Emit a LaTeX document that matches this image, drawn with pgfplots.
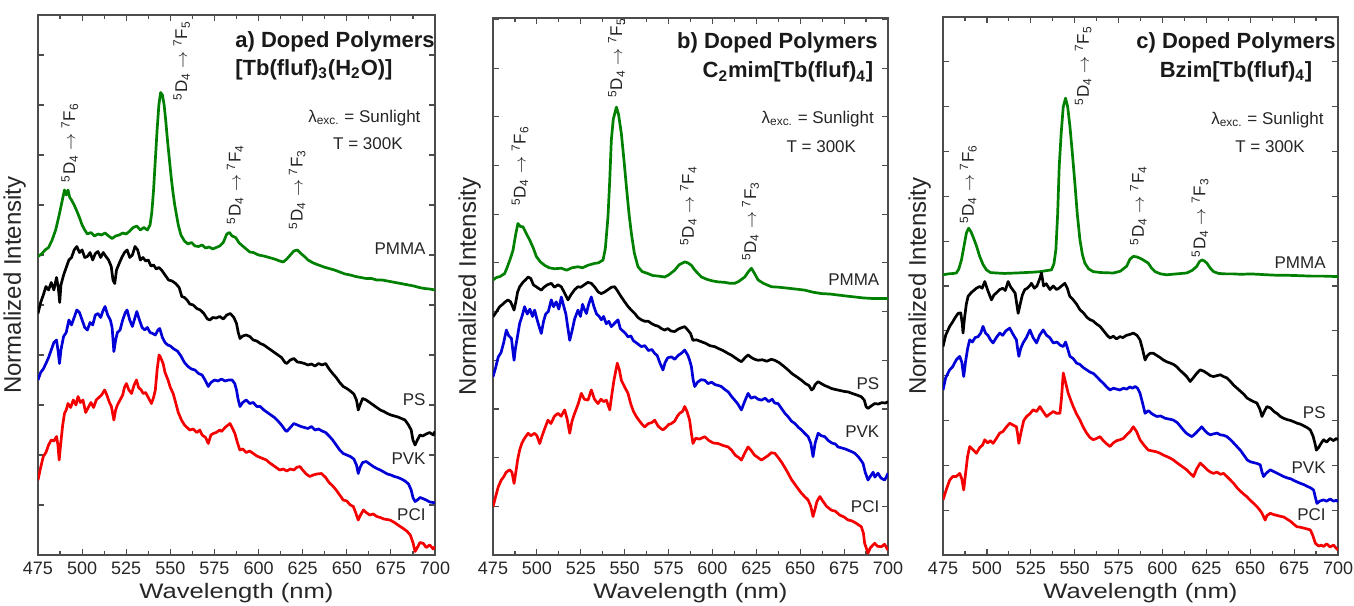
\documentclass[border=0pt]{standalone}
\usepackage{fontspec}
\setmainfont{Liberation Sans}
\newfontfamily\widefont{Liberation Sans}[FakeStretch=1.22]
\usepackage{pgfplots}
\pgfplotsset{compat=1.18}

\definecolor{cPMMA}{RGB}{0,128,0}
\definecolor{cPS}{RGB}{0,0,0}
\definecolor{cPVK}{RGB}{0,0,215}
\definecolor{cPCI}{RGB}{245,0,0}

\newcommand{\tr}[2]{\textsuperscript{5}D\textsubscript{4} $\rightarrow$ \textsuperscript{7}F\textsubscript{#2}}

\pgfplotsset{
  spec/.style={
    scale only axis, xmin=475, xmax=700, ymin=0,
    xtick={475,500,...,700}, minor x tick num=1,
    ytick distance=1, yticklabels={},
    tick align=inside, major tick length=3pt, minor tick length=2pt,
    axis line style={black!70, line width=0.7pt},
    every tick/.style={black!70, line width=0.6pt},
    tick label style={font=\fontsize{9}{10}\selectfont, text=black!85},
    /pgf/number format/assume math mode=true,
    xlabel={Wavelength (nm)}, ylabel={Normalized Intensity},
    ylabel style={font=\fontsize{12}{14}\selectfont, text=black!85,
      at={(axis description cs:-0.013,0.5)}, anchor=south},
    xlabel style={font=\widefont\fontsize{10.5}{12}\selectfont, text=black!85,
      at={(axis description cs:0.5,0)}, anchor=base, yshift=-21.5pt},
    every axis plot/.append style={line width=1.35pt, line join=round, mark=none},
  },
}
\tikzset{
  ann/.style={rotate=90, anchor=west, font=\fontsize{8.5}{10}\selectfont, text=black!85, inner sep=1pt},
  lab/.style={anchor=east, font=\fontsize{8.5}{10}\selectfont, text=black!85, inner sep=1pt},
  info/.style={font=\fontsize{8.5}{10}\selectfont, text=black!85, inner sep=1pt},
  ttl/.style={font=\bfseries\fontsize{11}{13.5}\selectfont, text=black!90, inner sep=1pt},
}

\begin{document}
\begin{tikzpicture}
\useasboundingbox (0,0) rectangle (677pt,302.5pt);

% ---------------- panel a ----------------
\begin{axis}[spec, at={(19pt,25pt)}, anchor=south west,
  width=198.5pt, height=270pt, ymax=10.8]
\addplot[cPMMA] coordinates {
(475,5.97)(477,6.02)(479,6.1)(481,6.15)(483,6.3)(485,6.5)(487,6.8)(488.5,7.05)(490,7.3)(491,7.2)(492,7.3)(493,7.15)(494,7.1)(495.5,7.0)(497,6.88)(498.5,6.75)(500,6.6)(501.5,6.5)(503,6.42)(505,6.45)(507,6.38)(509,6.42)(511,6.4)(513,6.44)(515,6.38)(517,6.33)(519,6.38)(521,6.4)(523,6.44)(525,6.42)(527,6.48)(529,6.55)(531,6.58)(533,6.5)(535,6.55)(537,6.5)(538.5,6.6)(539.5,6.85)(540.5,7.3)(541.5,7.9)(542.5,8.5)(543.5,9.0)(544.5,9.25)(545.5,9.2)(546.5,9.0)(547.5,8.65)(548.5,8.25)(549.5,7.9)(550.5,7.55)(551.5,7.25)(552.5,7.0)(553.5,6.8)(554.5,6.6)(556,6.4)(558,6.28)(560,6.22)(562,6.25)(564,6.18)(566,6.17)(568,6.2)(570,6.14)(572,6.16)(574,6.12)(576,6.15)(578,6.18)(580,6.25)(582,6.42)(583.5,6.45)(585,6.38)(587,6.35)(589,6.24)(591,6.18)(593,6.12)(595,6.06)(597,6.05)(600,6.0)(603,5.98)(606,5.95)(609,5.92)(612,5.88)(614,5.86)(616,5.92)(618,6.0)(620,6.08)(622,6.1)(624,6.03)(626,5.97)(628,5.9)(631,5.84)(634,5.8)(637,5.76)(640,5.73)(643,5.7)(646,5.66)(649,5.62)(652,5.6)(655,5.57)(658,5.55)(661,5.53)(664,5.53)(667,5.5)(670,5.5)(673,5.48)(676,5.46)(679,5.44)(682,5.42)(685,5.4)(688,5.38)(691,5.35)(694,5.33)(697,5.32)(700,5.3)
};
\addplot[cPS] coordinates {
(475,4.83)(476.5,5.05)(478,5.2)(479.5,5.37)(481,5.3)(482.5,5.45)(484,5.3)(485.5,5.55)(486.5,5.35)(487.3,5.05)(488,5.4)(489.5,5.6)(491,5.75)(492.5,5.9)(494,5.95)(495.5,6.1)(497,6.17)(498.5,6.05)(500,6.1)(501.5,5.95)(503,5.97)(504.5,6.05)(506,5.9)(507.5,6.03)(509,6.07)(510.5,5.95)(512,6.05)(513.5,5.97)(515,5.9)(516.5,5.77)(517.5,5.5)(518.5,5.43)(519.5,5.7)(521,5.83)(522.5,5.95)(524,6.05)(525.5,6.1)(527,5.95)(528.5,6.0)(530,6.17)(531.5,6.1)(533,5.9)(534.5,5.95)(536,5.88)(537.5,5.9)(539,5.78)(540.5,5.8)(542,5.72)(543.5,5.75)(545,5.7)(547,5.6)(549,5.5)(551,5.48)(553,5.43)(555,5.35)(556.5,5.17)(558,5.15)(559.5,5.1)(561,5.02)(563,5.0)(565,4.93)(567,4.9)(569,4.83)(571,4.72)(572.5,4.7)(574,4.75)(576,4.74)(578,4.77)(580,4.72)(582,4.8)(584,4.83)(586,4.75)(587.5,4.63)(588.5,4.45)(589.5,4.33)(591,4.38)(593,4.4)(595,4.37)(597,4.3)(599,4.28)(601,4.23)(603,4.2)(605,4.15)(607,4.1)(609,4.05)(611,4.0)(613,3.95)(615,3.85)(616,3.83)(618,3.9)(620,3.93)(622,3.86)(624,3.85)(626,3.83)(628,3.8)(630,3.82)(632,3.78)(634,3.83)(636,3.8)(638,3.83)(640,3.72)(642,3.63)(644,3.55)(646,3.45)(648,3.37)(650,3.33)(652,3.28)(654,3.22)(655.5,3.1)(656.5,2.9)(657.5,3.0)(659,3.13)(661,3.1)(663,3.05)(665,3.0)(667,2.95)(669,2.9)(671,2.87)(673,2.83)(675,2.8)(677,2.78)(679,2.76)(681,2.73)(683,2.7)(685,2.6)(686.5,2.5)(687.5,2.3)(688.7,2.2)(690,2.3)(691.5,2.4)(693,2.38)(695,2.42)(697,2.45)(699,2.4)(700,2.47)
};
\addplot[cPVK] coordinates {
(475,3.5)(476.5,3.65)(478,3.72)(479.5,3.83)(481,3.95)(482.5,4.1)(484,4.25)(485.5,4.3)(486.5,4.05)(487.2,3.83)(488,4.1)(489.5,4.37)(491,4.45)(492.5,4.7)(494,4.6)(495.5,4.75)(497,4.9)(498.5,4.85)(500,4.7)(501.5,4.55)(503,4.5)(504.5,4.65)(506,4.6)(507.5,4.8)(509,4.83)(510.5,4.75)(512,4.9)(513,4.97)(514.5,4.8)(516,4.7)(517,4.55)(518,4.07)(519,4.3)(520,4.45)(521.5,4.5)(523,4.7)(524.5,4.85)(525.5,4.9)(527,4.7)(528.5,4.57)(530,4.75)(531,4.87)(532.5,4.7)(534,4.55)(535.5,4.5)(537,4.55)(538.5,4.45)(540,4.43)(541.5,4.4)(543,4.5)(544,4.53)(545.5,4.35)(547,4.25)(548.5,4.2)(550,4.18)(552,4.12)(554,4.08)(556,3.98)(558,3.85)(560,3.77)(562,3.72)(564,3.7)(566,3.63)(568,3.6)(570,3.48)(571.5,3.37)(573,3.45)(575,3.5)(577,3.48)(579,3.52)(581,3.48)(583,3.5)(585,3.5)(586.5,3.43)(587.5,3.3)(588.5,3.1)(589.5,2.97)(591,3.05)(593,3.1)(595,3.03)(597,3.05)(599,2.97)(601,2.97)(603,2.9)(605,2.85)(607,2.8)(609,2.75)(611,2.68)(613,2.6)(615,2.5)(616,2.47)(618,2.55)(620,2.63)(622,2.6)(624,2.57)(626,2.55)(628,2.53)(630,2.57)(632,2.5)(634,2.52)(636,2.48)(638,2.45)(640,2.38)(642,2.3)(644,2.2)(646,2.1)(648,2.03)(650,2.0)(652,1.97)(654,1.92)(655.5,1.8)(656.5,1.63)(657.5,1.75)(659,1.85)(661,1.87)(663,1.82)(665,1.77)(667,1.73)(669,1.7)(671,1.66)(673,1.62)(675,1.6)(677,1.57)(679,1.55)(681,1.52)(683,1.48)(685,1.42)(686.5,1.3)(687.5,1.15)(688.7,1.07)(690,1.1)(691.5,1.15)(693,1.13)(695,1.1)(697,1.06)(699,1.05)(700,1.03)
};
\addplot[cPCI] coordinates {
(475,1.5)(476.5,1.75)(478,1.97)(479.5,2.05)(481,2.2)(482.5,2.3)(484,2.28)(485.5,2.37)(486.3,2.2)(487,1.9)(487.8,2.2)(489,2.6)(490,2.83)(491,2.9)(492,3.03)(493.5,2.95)(495,3.1)(496.5,3.0)(497.7,3.17)(499,3.05)(500.5,3.1)(502,2.85)(503.5,2.95)(505,3.05)(506.5,2.95)(508,3.1)(509.5,3.15)(511,3.2)(512.8,3.3)(514,3.2)(515.5,3.05)(516.6,2.97)(518,2.7)(519,2.9)(520,3.0)(521.5,3.1)(523,3.2)(524,3.35)(525.1,3.43)(526.5,3.3)(528,3.23)(529.5,3.4)(530.8,3.5)(532,3.35)(533.5,3.3)(534.6,3.23)(536,3.25)(537.5,3.15)(539.3,3.03)(540.5,3.15)(541.5,3.3)(542.5,3.7)(543.6,4.0)(544.5,3.95)(545.9,3.83)(547,3.65)(548.7,3.5)(550,3.35)(551.6,3.23)(553,3.05)(554.5,2.85)(556.3,2.7)(558,2.6)(559.5,2.55)(561,2.5)(563,2.52)(565,2.45)(566.7,2.5)(568,2.4)(570,2.35)(571.5,2.23)(573,2.4)(574.3,2.43)(576,2.45)(578,2.5)(579,2.47)(581,2.55)(583.8,2.63)(585,2.55)(586.6,2.43)(588,2.25)(589.4,2.1)(591,2.12)(593,2.05)(595,2.08)(597,2.03)(599,1.98)(601,1.95)(603,1.92)(604.5,1.9)(606,1.85)(608,1.8)(610,1.75)(612,1.7)(614,1.72)(616,1.68)(618,1.72)(620,1.7)(621.5,1.75)(623.4,1.77)(625,1.7)(627,1.62)(629,1.57)(631,1.6)(633,1.62)(635.7,1.63)(638,1.55)(640,1.45)(642.3,1.37)(644,1.3)(646,1.2)(648,1.1)(650,1.08)(652,1.0)(653.7,0.97)(655,0.85)(656.5,0.7)(657.5,0.78)(659.4,0.9)(661,0.85)(663,0.8)(665,0.82)(667,0.77)(669,0.75)(671,0.72)(674.5,0.7)(677,0.65)(679,0.6)(682,0.53)(684,0.48)(686,0.4)(687.5,0.25)(688.7,0.07)(690,0.15)(691.5,0.25)(693.4,0.23)(695,0.15)(697,0.2)(699,0.12)(700,0.17)
};
\node[ttl, anchor=west] at (axis cs:585.5,10.26) {a) Doped Polymers};
\node[ttl, anchor=west] at (axis cs:585.5,9.7) {[Tb(fluf)\textsubscript{3}(H\textsubscript{2}O)]};
\node[info] at (axis cs:660,8.74) {λ\textsubscript{exc.} = Sunlight};
\node[info] at (axis cs:662,8.22) {T = 300K};
\node[ann] at (axis cs:493,7.4) {\tr{}{6}};
\node[ann] at (axis cs:556.4,9.04) {\tr{}{5}};
\node[ann] at (axis cs:586.7,6.57) {\tr{}{4}};
\node[ann] at (axis cs:621.9,6.47) {\tr{}{3}};
\node[lab] at (axis cs:696,6.12) {PMMA};
\node[lab] at (axis cs:696,3.1) {PS};
\node[lab] at (axis cs:696,1.92) {PVK};
\node[lab] at (axis cs:696,0.8) {PCI};
\end{axis}

% ---------------- panel b ----------------
\begin{axis}[spec, at={(246.5pt,25pt)}, anchor=south west,
  width=197.5pt, height=268.5pt, ymax=11.03]
\addplot[cPMMA] coordinates {
(475,5.65)(477,5.7)(479,5.72)(481.6,5.78)(483,5.9)(485,6.1)(486.4,6.26)(488,6.6)(489.2,6.81)(490.5,6.75)(492.1,6.74)(494,6.6)(495.9,6.47)(498,6.3)(499.7,6.13)(502,6.02)(504.4,5.95)(507,5.9)(510,5.88)(513.9,5.89)(517,5.85)(520,5.9)(523.4,5.92)(526,5.9)(529,5.95)(532.9,5.99)(535,6.0)(537.7,6.06)(539,6.3)(540.5,6.95)(541.5,7.7)(542.4,8.52)(543.5,8.95)(545.3,9.2)(546.5,9.05)(548.1,8.66)(549.5,8.15)(551,7.56)(552.5,7.0)(553.8,6.61)(555.5,6.2)(557.6,5.92)(560,5.82)(563.3,5.78)(566,5.74)(569,5.73)(572.8,5.71)(575,5.75)(578.5,5.85)(581,5.96)(584.2,6.02)(586,6.0)(588,5.95)(590,5.85)(593.7,5.71)(597,5.66)(600,5.63)(603.2,5.61)(607,5.6)(610,5.58)(612.7,5.58)(615,5.62)(618.4,5.71)(620.5,5.82)(622.2,5.89)(624,5.78)(626,5.65)(629,5.58)(633.6,5.51)(638,5.5)(643.1,5.48)(648,5.46)(652.6,5.44)(657,5.4)(662,5.37)(667,5.36)(671.5,5.34)(676,5.32)(681,5.3)(686,5.28)(690.5,5.27)(695,5.27)(700,5.27)
};
\addplot[cPS] coordinates {
(475,4.89)(477,5.0)(478.8,5.1)(480.5,5.15)(482,5.2)(483.5,5.24)(485,5.2)(486,5.12)(487,5.03)(488,5.2)(489,5.4)(490.2,5.51)(492,5.6)(493.5,5.65)(495,5.71)(496.5,5.68)(498,5.55)(500,5.5)(502.5,5.44)(504,5.5)(506,5.55)(508.2,5.58)(510,5.5)(512,5.55)(513.9,5.51)(515.5,5.4)(517.7,5.24)(519.5,5.35)(521.5,5.45)(523.4,5.51)(525,5.5)(527,5.55)(529,5.6)(531,5.58)(533,5.5)(535,5.4)(536.7,5.37)(538.5,5.4)(540.5,5.45)(542.5,5.5)(544.3,5.51)(546,5.42)(548.1,5.3)(550,5.2)(552,5.1)(553.8,5.03)(556,4.95)(557.5,4.88)(559.5,4.83)(561.5,4.8)(563.5,4.8)(565.5,4.75)(567.1,4.72)(569,4.7)(571,4.65)(572.8,4.62)(574.5,4.65)(576.5,4.6)(578.5,4.59)(580.5,4.64)(582.5,4.67)(584.2,4.69)(586,4.62)(587.5,4.55)(588.9,4.41)(591,4.42)(593.7,4.38)(596,4.35)(598.5,4.3)(601.3,4.28)(603.5,4.24)(606,4.2)(608.9,4.14)(611,4.1)(613,4.05)(615,4.0)(616.5,3.97)(618.5,4.05)(620.3,4.11)(622,4.06)(624,4.02)(626,4.0)(628.5,4.01)(631,3.98)(633.5,4.02)(635.5,4.0)(638,3.95)(640.5,3.88)(643.1,3.8)(645.5,3.72)(648,3.66)(650.7,3.59)(653,3.52)(655,3.48)(656.5,3.39)(657.5,3.42)(658.5,3.5)(660.2,3.56)(662,3.52)(664,3.48)(666,3.45)(667.8,3.42)(670,3.4)(672.5,3.38)(675,3.36)(677.2,3.35)(679.5,3.32)(682,3.29)(684.8,3.25)(686.5,3.18)(687.5,3.05)(688.6,3.01)(690,3.05)(692.4,3.11)(694.5,3.1)(696.5,3.13)(698.5,3.12)(700,3.15)
};
\addplot[cPVK] coordinates {
(475,3.66)(476.5,3.85)(478,4.07)(479.5,4.15)(481,4.35)(482.6,4.62)(484,4.5)(485.5,4.45)(486.3,4.2)(487,4.0)(487.8,4.25)(489,4.5)(490.2,4.76)(491.5,4.9)(493,5.1)(494.5,4.95)(496,5.05)(497.5,4.9)(498.7,5.03)(500,4.85)(501.2,4.7)(502.5,4.55)(503.8,4.8)(505,4.95)(506.5,5.0)(508.2,5.24)(509.5,5.1)(511,5.2)(512.5,5.05)(513.9,5.3)(515,5.15)(516.5,4.95)(517.5,4.7)(518.7,4.41)(520,4.6)(521.5,4.85)(523.4,5.03)(524.8,4.9)(526,5.15)(527,5.05)(528.2,4.96)(529.5,5.15)(531,5.3)(532.5,5.1)(534,4.95)(535.5,4.9)(536.7,4.83)(538,4.9)(539.5,4.75)(541,4.8)(542.4,4.69)(544,4.75)(546.2,4.83)(547.5,4.65)(549,4.6)(550.5,4.55)(551.9,4.48)(553.5,4.5)(555,4.4)(557,4.35)(559.5,4.28)(561.5,4.3)(563.5,4.2)(565.5,4.22)(567.1,4.14)(568.5,4.1)(570,3.95)(571.8,3.8)(573,3.95)(574.5,4.05)(576.6,4.07)(578.5,4.02)(580.5,4.1)(582.5,4.15)(584.2,4.21)(586,4.1)(587,4.0)(588,3.87)(589,3.6)(589.9,3.46)(591.5,3.55)(593.5,3.6)(595.6,3.59)(597.5,3.52)(599.5,3.55)(601.5,3.5)(603.5,3.48)(605.1,3.46)(607,3.4)(609,3.35)(611,3.25)(612.7,3.18)(614.5,3.1)(616.5,2.98)(618.3,3.15)(620.3,3.32)(622,3.22)(624,3.25)(626,3.2)(627.9,3.18)(630,3.22)(632,3.15)(634,3.2)(635.5,3.12)(637.4,3.11)(639.5,3.0)(641.5,2.9)(643.1,2.84)(645,2.75)(647,2.7)(649,2.62)(650.7,2.57)(652.5,2.5)(654.5,2.43)(656,2.3)(657.3,2.02)(658.5,2.3)(660.2,2.5)(662,2.45)(664,2.43)(666,2.35)(668,2.3)(670,2.28)(671.5,2.22)(673.5,2.2)(675.5,2.18)(677.5,2.15)(679.5,2.12)(681,2.09)(683,2.02)(684.5,1.95)(685.8,1.88)(687,1.7)(688.6,1.54)(690,1.62)(691.5,1.7)(692.5,1.6)(694.3,1.68)(696,1.58)(698.1,1.54)(699,1.6)(700,1.68)
};
\addplot[cPCI] coordinates {
(475,0.99)(476.5,1.2)(478,1.4)(479.7,1.54)(481,1.6)(482.5,1.7)(484.5,1.75)(485.8,1.7)(487,1.47)(488,1.7)(489,1.95)(490.2,2.16)(491.5,2.3)(493,2.4)(495,2.5)(496.5,2.45)(498.7,2.5)(500,2.45)(501.6,2.29)(503,2.45)(504.5,2.6)(506.3,2.77)(508,2.7)(510,2.85)(512,2.91)(513.8,2.85)(515.8,2.98)(517.2,2.8)(518.7,2.5)(520,2.75)(521.5,2.91)(523.5,3.1)(525.3,3.32)(527,3.2)(529.1,3.18)(531,3.39)(532.8,3.2)(534.8,3.11)(536.5,3.2)(538,3.15)(539.6,3.18)(541.5,2.98)(542.7,3.3)(543.9,3.59)(545.8,3.94)(547,3.8)(548.1,3.59)(550,3.45)(551.9,3.32)(553.5,3.1)(555,2.95)(556.7,2.84)(558.5,2.75)(560,2.68)(561.4,2.63)(563.5,2.7)(565.5,2.72)(567.1,2.77)(569,2.65)(570.5,2.6)(571.8,2.57)(573.5,2.62)(575,2.68)(576.6,2.7)(578.5,2.75)(580,2.85)(581.3,2.91)(583,2.95)(584.2,3.05)(585.5,2.95)(587,2.77)(588,2.5)(588.9,2.29)(590.5,2.4)(592.5,2.38)(595.6,2.43)(598,2.35)(600.5,2.3)(603.2,2.29)(606,2.25)(608.9,2.22)(611,2.15)(613,2.05)(615,2.0)(616.5,1.95)(618.5,2.1)(620.3,2.22)(622,2.15)(624,2.05)(626,2.0)(627.9,1.95)(630,2.0)(632,2.05)(633.5,2.1)(635.5,2.09)(637.5,2.0)(639.5,1.9)(641.5,1.78)(643.1,1.68)(645,1.55)(647,1.45)(649,1.35)(650.7,1.27)(652.5,1.2)(654.5,1.13)(656,1.0)(657.3,0.79)(658.5,0.95)(659.5,1.1)(661.2,1.2)(663,1.1)(665,1.0)(667.8,0.92)(670,0.9)(672.5,0.82)(675,0.78)(677.2,0.72)(679.5,0.7)(682,0.65)(684.8,0.58)(686,0.45)(686.7,0.24)(688.6,0.04)(690,0.15)(692.4,0.24)(694,0.18)(696.2,0.17)(698,0.22)(700,0.1)
};
\node[ttl, anchor=east] at (axis cs:695.5,10.51) {b) Doped Polymers};
\node[ttl, anchor=east] at (axis cs:693,9.92) {C\textsubscript{2}mim[Tb(fluf)\textsubscript{4}]};
\node[info] at (axis cs:660,8.95) {λ\textsubscript{exc.} = Sunlight};
\node[info] at (axis cs:662,8.38) {T = 300K};
\node[ann] at (axis cs:490.4,7.12) {\tr{}{6}};
\node[ann] at (axis cs:545.4,9.34) {\tr{}{5}};
\node[ann] at (axis cs:586.3,6.3) {\tr{}{4}};
\node[ann] at (axis cs:621.7,5.99) {\tr{}{3}};
\node[lab] at (axis cs:696.4,5.65) {PMMA};
\node[lab] at (axis cs:696.4,3.51) {PS};
\node[lab] at (axis cs:696.4,2.53) {PVK};
\node[lab] at (axis cs:696.4,0.99) {PCI};
\end{axis}

% ---------------- panel c ----------------
\begin{axis}[spec, at={(471.5pt,25pt)}, anchor=south west,
  width=197.5pt, height=269pt, ymax=12.0]
\addplot[cPMMA] coordinates {
(475,6.25)(478,6.27)(481,6.28)(482.6,6.29)(484,6.38)(485.5,6.58)(487,6.9)(488.3,7.18)(489.6,7.29)(490.8,7.22)(492.1,7.1)(494,6.9)(495.9,6.66)(497.8,6.48)(499.7,6.36)(502,6.3)(505.4,6.29)(510,6.28)(516.8,6.29)(522,6.3)(527,6.31)(530.2,6.32)(533.5,6.34)(536.8,6.36)(538.2,6.5)(539.3,6.81)(540.3,7.6)(541.2,8.67)(542.3,9.4)(543.5,10.0)(544.8,10.19)(546,10.0)(547.3,9.56)(548.7,8.95)(550.1,8.3)(551.5,7.6)(553,7.03)(554.4,6.7)(555.8,6.51)(558,6.38)(560.6,6.32)(565,6.3)(572,6.29)(576,6.33)(579.6,6.44)(581.5,6.6)(583.4,6.66)(585.3,6.65)(587.2,6.62)(589.5,6.57)(591.9,6.51)(593.8,6.4)(595.8,6.32)(599,6.27)(602.4,6.25)(608,6.27)(613.8,6.29)(617,6.35)(619.6,6.44)(621,6.54)(622.4,6.58)(623.8,6.56)(625.3,6.51)(627.2,6.4)(629.1,6.32)(632,6.28)(636,6.27)(640.5,6.27)(645,6.26)(650,6.27)(655,6.26)(659.5,6.25)(665,6.24)(670,6.24)(678.5,6.23)(685,6.22)(692,6.22)(700,6.21)
};
\addplot[cPS] coordinates {
(475,4.65)(476.5,4.9)(478.8,5.1)(480.5,5.2)(482,5.3)(483.6,5.39)(485.1,5.4)(486,5.15)(486.4,4.95)(487.3,5.3)(488.3,5.6)(489.3,5.77)(491,5.85)(492.5,5.9)(494,5.95)(495.9,5.99)(497.3,5.95)(498.8,6.1)(500.5,5.9)(502.6,5.69)(504,5.8)(505.5,5.85)(507.3,5.92)(509,5.95)(510.5,5.9)(512.1,6.1)(513.5,5.98)(515,5.9)(516.1,5.84)(517,5.6)(517.8,5.39)(519,5.6)(520.2,5.8)(521.6,5.92)(523,5.95)(524.3,6.0)(525.4,6.06)(527,5.95)(528.5,6.0)(530,6.15)(531.1,6.29)(532.3,6.0)(533.8,6.05)(535.9,5.92)(537.8,6.0)(539.7,5.92)(541,5.95)(542.5,6.0)(544.4,6.06)(545.8,5.95)(547.2,5.77)(549,5.7)(551,5.6)(553,5.47)(555,5.4)(557,5.3)(558.7,5.25)(560.5,5.22)(562.5,5.15)(564.4,5.1)(566.5,5.0)(568.5,4.9)(570.1,4.84)(572,4.88)(573.8,4.82)(575.8,4.87)(577.5,4.85)(579.5,4.9)(581.5,4.92)(583.4,4.95)(585.5,4.9)(587.2,4.8)(588.6,4.6)(590.1,4.35)(591.5,4.45)(593,4.5)(594.8,4.5)(596.8,4.45)(598.8,4.4)(600.5,4.35)(602.4,4.31)(604.5,4.28)(606.3,4.25)(608.1,4.2)(610,4.12)(612,4.05)(613.8,3.98)(615.8,3.87)(617.5,3.95)(619.5,4.05)(621.5,4.13)(623.5,4.1)(625.5,4.05)(627.3,4.0)(629.1,3.98)(631,4.0)(633,4.02)(634.8,3.98)(636.7,3.95)(638.5,3.88)(640.5,3.79)(642.5,3.72)(644.5,3.65)(646.5,3.58)(648.2,3.5)(650,3.46)(652,3.42)(653.8,3.39)(655.5,3.25)(656.7,3.09)(658,3.2)(659.5,3.31)(661.5,3.28)(663.5,3.2)(665.5,3.15)(667.1,3.09)(669,3.05)(671,3.02)(673,3.0)(675,2.97)(676.6,2.94)(678.5,2.92)(680.5,2.88)(682.5,2.84)(684.2,2.79)(685.8,2.65)(686.8,2.5)(687.7,2.34)(689,2.4)(690.5,2.5)(691.8,2.57)(693.5,2.52)(695.5,2.6)(697.5,2.55)(699,2.6)(700,2.57)
};
\addplot[cPVK] coordinates {
(475,3.68)(476.5,3.95)(478.8,4.13)(480.5,4.2)(482.5,4.35)(484.5,4.43)(485.7,4.3)(486.8,3.98)(487.8,4.3)(489,4.6)(490.2,4.8)(491.7,4.75)(493.3,4.85)(495,4.87)(496.5,4.95)(497.8,5.1)(499.2,4.95)(500.6,4.9)(502,4.8)(503.5,4.73)(505.4,4.85)(507.3,4.95)(509,4.9)(510.8,5.0)(513,5.06)(514.5,4.95)(516,4.85)(516.8,4.8)(517.5,4.6)(518.2,4.43)(519.2,4.6)(520.6,4.73)(522.5,4.85)(524.5,5.02)(526.3,4.85)(528.3,4.73)(530,4.9)(532.1,5.02)(534,4.9)(535.8,4.85)(537.8,4.73)(540,4.75)(541.7,4.68)(543.5,4.65)(544.8,4.75)(546,4.6)(547.3,4.43)(549.2,4.38)(551.1,4.28)(553,4.25)(554.9,4.18)(556.8,4.13)(558.7,4.08)(560.6,4.05)(562.5,3.98)(564.4,3.9)(566.3,3.83)(568.2,3.75)(570.1,3.68)(572,3.72)(573.9,3.7)(575.8,3.68)(577.7,3.72)(579.6,3.7)(581.5,3.75)(583,3.72)(584.4,3.76)(585.8,3.72)(587.2,3.61)(588.6,3.4)(590.1,3.16)(592,3.22)(594,3.15)(596.7,3.09)(599,3.1)(601.5,3.05)(604,3.03)(606.2,3.01)(608.5,2.95)(610,2.88)(611.9,2.79)(613.5,2.72)(615,2.68)(616.7,2.64)(618.5,2.7)(620.5,2.78)(622.4,2.86)(624,2.78)(625.5,2.72)(627.2,2.68)(629,2.7)(631,2.72)(633,2.68)(634.8,2.67)(636.7,2.64)(638.5,2.58)(640.5,2.5)(642.4,2.42)(644.5,2.33)(646.5,2.22)(648.3,2.12)(650,2.08)(652,2.06)(654,2.04)(655.7,2.01)(656.7,1.85)(657.6,1.75)(659,1.82)(661.4,1.9)(663.5,1.86)(665.5,1.82)(667.5,1.78)(669,1.75)(671,1.72)(673,1.7)(675,1.66)(676.7,1.63)(678.5,1.6)(680.5,1.57)(682.5,1.53)(684.3,1.5)(686.1,1.45)(687,1.3)(688,1.15)(689.5,1.2)(691.8,1.23)(693.5,1.2)(695.5,1.25)(697.5,1.2)(699,1.22)(700,1.19)
};
\addplot[cPCI] coordinates {
(475,1.23)(476.8,1.45)(478.8,1.67)(480.5,1.75)(482.5,1.75)(484.5,1.82)(485.7,1.7)(486.8,1.45)(487.8,1.8)(489,2.2)(490.2,2.42)(492,2.35)(494,2.27)(496,2.4)(497.5,2.45)(498.8,2.57)(500.5,2.5)(502,2.55)(503.5,2.49)(505.4,2.6)(507.3,2.72)(509,2.75)(511,2.85)(513,2.94)(514.8,2.9)(516.8,2.86)(517.5,2.7)(518.2,2.49)(519.5,2.75)(521,3.0)(522.6,3.09)(524.5,3.15)(526.4,3.24)(528.3,3.2)(530.2,3.31)(532,3.2)(534,3.09)(536,3.15)(537.8,3.2)(539.7,3.16)(541.6,3.16)(542.5,3.5)(543.5,4.06)(544.8,3.85)(546.3,3.61)(547.8,3.45)(549.2,3.31)(551,3.15)(553,3.01)(554.9,2.85)(556.8,2.72)(558.7,2.62)(560.6,2.57)(562.5,2.6)(564.4,2.64)(566.3,2.55)(568.2,2.48)(570.1,2.42)(572,2.5)(573.9,2.55)(575.8,2.57)(577.7,2.6)(579.6,2.68)(581.5,2.75)(583.4,2.86)(585.3,2.75)(587.2,2.57)(589.5,2.45)(591.9,2.34)(594.5,2.32)(596.7,2.3)(598.6,2.27)(601,2.22)(603.5,2.18)(606.2,2.12)(608.5,2.05)(611,1.98)(613.8,1.9)(615.8,1.82)(617.7,1.75)(619.5,1.92)(621.5,2.05)(623.5,1.98)(625.5,1.9)(627.3,1.85)(629.1,1.82)(631,1.85)(633,1.8)(634.8,1.82)(636.7,1.75)(638.5,1.68)(640.5,1.6)(642.5,1.5)(644.5,1.42)(646.5,1.35)(648.1,1.3)(650,1.22)(652,1.15)(653.8,1.08)(655.5,1.0)(656.7,0.93)(658.5,0.78)(659.5,0.88)(661.4,0.93)(663.5,0.9)(665.5,0.88)(667.5,0.86)(669,0.85)(671,0.8)(673,0.75)(675,0.68)(676.6,0.63)(678.5,0.62)(680.5,0.6)(682.5,0.58)(684.2,0.56)(685.5,0.45)(687.1,0.26)(689,0.2)(690.5,0.22)(691.8,0.19)(693.5,0.25)(695.5,0.18)(697.5,0.22)(699,0.15)(700,0.11)
};
\node[ttl] at (axis cs:641.9,11.43) {c) Doped Polymers};
\node[ttl] at (axis cs:641.9,10.78) {Bzim[Tb(fluf)\textsubscript{4}]};
\node[info] at (axis cs:659.8,9.71) {λ\textsubscript{exc.} = Sunlight};
\node[info] at (axis cs:661.3,9.11) {T = 300K};
\node[ann] at (axis cs:489.4,7.33) {\tr{}{6}};
\node[ann] at (axis cs:554.9,9.97) {\tr{}{5}};
\node[ann] at (axis cs:586.3,6.85) {\tr{}{4}};
\node[ann] at (axis cs:621.4,6.58) {\tr{}{3}};
\node[lab] at (axis cs:694.3,6.51) {PMMA};
\node[lab] at (axis cs:694.3,3.17) {PS};
\node[lab] at (axis cs:694.3,1.95) {PVK};
\node[lab] at (axis cs:694.3,0.89) {PCI};
\end{axis}
\end{tikzpicture}
\end{document}
